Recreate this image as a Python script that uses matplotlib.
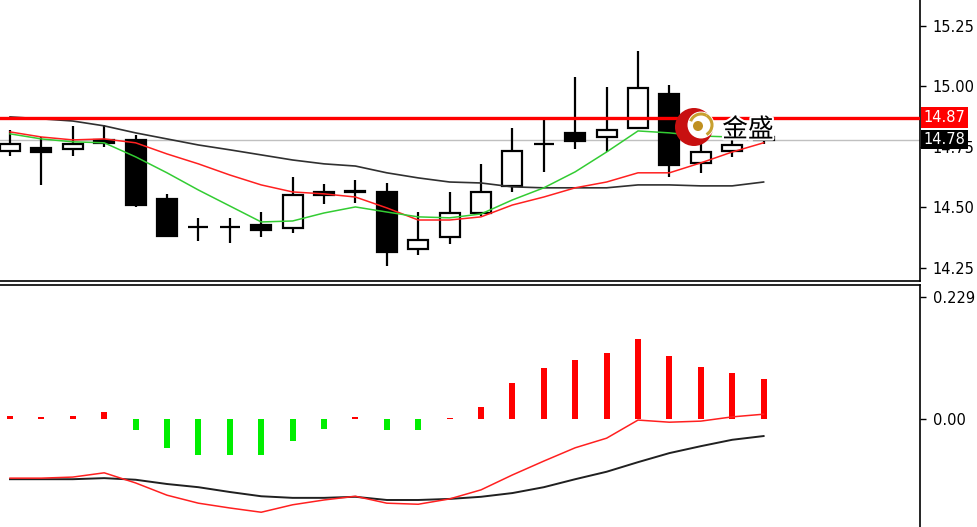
import matplotlib
matplotlib.use("Agg")
import matplotlib.pyplot as plt
import matplotlib.patheffects as pe
from matplotlib.patches import Circle, Arc
import numpy as np

# ---------------- data ----------------
opens  = [14.733, 14.746, 14.742, 14.779, 14.779, 14.535, 14.421, 14.421, 14.428, 14.415,
          14.564, 14.566, 14.564, 14.329, 14.378, 14.477, 14.589, 14.764, 14.808, 14.791,
          14.829, 14.969, 14.684, 14.733, 14.790]
highs  = [14.820, 14.791, 14.837, 14.841, 14.800, 14.556, 14.457, 14.457, 14.481, 14.626,
          14.597, 14.614, 14.601, 14.481, 14.564, 14.680, 14.829, 14.862, 15.039, 14.998,
          15.147, 15.006, 14.767, 14.779, 14.800]
lows   = [14.713, 14.593, 14.713, 14.750, 14.502, 14.378, 14.362, 14.353, 14.378, 14.395,
          14.514, 14.519, 14.258, 14.304, 14.349, 14.465, 14.564, 14.647, 14.742, 14.729,
          14.824, 14.626, 14.643, 14.709, 14.760]
closes = [14.762, 14.729, 14.762, 14.767, 14.510, 14.382, 14.419, 14.419, 14.407, 14.552,
          14.552, 14.562, 14.316, 14.366, 14.477, 14.564, 14.733, 14.760, 14.775, 14.820,
          14.994, 14.676, 14.729, 14.758, 14.780]

ma_fast = [14.804, 14.783, 14.771, 14.767, 14.709, 14.643, 14.572, 14.506, 14.440, 14.444,
           14.477, 14.502, 14.481, 14.461, 14.457, 14.473, 14.531, 14.581, 14.647, 14.729,
           14.816, 14.808, 14.795, 14.791, 14.787]
ma_mid  = [14.812, 14.791, 14.779, 14.783, 14.767, 14.721, 14.680, 14.634, 14.593, 14.564,
           14.556, 14.543, 14.498, 14.448, 14.448, 14.461, 14.510, 14.543, 14.581, 14.605,
           14.643, 14.643, 14.684, 14.729, 14.767]
ma_slow = [14.874, 14.866, 14.857, 14.837, 14.808, 14.783, 14.758, 14.738, 14.717, 14.696,
           14.680, 14.671, 14.643, 14.622, 14.605, 14.601, 14.585, 14.581, 14.581, 14.581,
           14.593, 14.593, 14.589, 14.589, 14.605]

macd_hist = [0.006, 0.003, 0.006, 0.013, -0.021, -0.054, -0.068, -0.068, -0.068, -0.041,
             -0.018, 0.003, -0.021, -0.021, 0.002, 0.023, 0.067, 0.095, 0.111, 0.124,
             0.151, 0.118, 0.097, 0.087, 0.076]
macd_red = [-0.111, -0.111, -0.109, -0.101, -0.120, -0.143, -0.158, -0.167, -0.175, -0.161,
            -0.152, -0.145, -0.158, -0.160, -0.150, -0.133, -0.105, -0.079, -0.054, -0.036,
            -0.002, -0.006, -0.004, 0.004, 0.009]
macd_black = [-0.113, -0.113, -0.113, -0.111, -0.114, -0.122, -0.128, -0.137, -0.145, -0.148,
              -0.148, -0.146, -0.152, -0.152, -0.150, -0.146, -0.139, -0.128, -0.113, -0.099,
              -0.081, -0.064, -0.051, -0.039, -0.032]

price_ticks = [14.25, 14.50, 14.75, 15.00, 15.25]
price_tick_labels = ["14.25", "14.50", "14.75", "15.00", "15.25"]
macd_ticks = [0.0, 0.229]
macd_tick_labels = ["0.00", "0.229"]
resistance_level = 14.87
resistance_label = "14.87"
bid_level = 14.78
bid_label = "14.78"
logo_text = "金盛"

# ---------------- figure ----------------
W, H = 977, 527
fig = plt.figure(figsize=(W / 100, H / 100), dpi=100)
fig.patch.set_facecolor("white")

axr = 920 / W
ax = fig.add_axes([0, (H - 281) / H, axr, 281 / H])
ax2 = fig.add_axes([0, 0, axr, (H - 285) / H])

x = np.arange(len(opens))
xlim = (-10 / 31.4, 910 / 31.4)

# candles
o = np.array(opens); c = np.array(closes)
bull = c >= o
ax.vlines(x, lows, highs, color="black", lw=1.6, zorder=2)
bottoms = np.minimum(o, c)
heights = np.abs(c - o)
ax.bar(x, heights, bottom=bottoms, width=0.64,
       color=["white" if b else "black" for b in bull],
       edgecolor="black", linewidth=1.6, zorder=3)

# horizontal lines
ax.axhline(bid_level, color="#c0c0c0", lw=1.0, zorder=1)
ax.axhline(resistance_level, color="#ff0000", lw=2.4, zorder=5)

# moving averages
ax.plot(x, ma_slow, color="#303030", lw=1.2, zorder=4)
ax.plot(x, ma_mid, color="#ff2020", lw=1.1, zorder=4)
ax.plot(x, ma_fast, color="#33cc33", lw=1.1, zorder=4)

ax.set_xlim(*xlim)
ax.set_ylim(14.196, 15.357)
ax.set_xticks([])
ax.yaxis.tick_right()
ax.set_yticks(price_ticks)
ax.set_yticklabels(price_tick_labels)
ax.tick_params(axis="y", direction="out", length=4, width=1, pad=5,
               labelsize=10.5, colors="black")
for s in ["left", "top"]:
    ax.spines[s].set_visible(False)
ax.spines["right"].set_linewidth(1.2)
ax.spines["bottom"].set_linewidth(1.2)

# price labels on axis
ax.text(1.004, resistance_level, resistance_label, transform=ax.get_yaxis_transform(),
        va="center", ha="left", fontsize=10.5, color="white", clip_on=False, zorder=10,
        bbox=dict(boxstyle="square,pad=0.2", fc="#ff0000", ec="none"))
ax.text(1.004, bid_level, bid_label, transform=ax.get_yaxis_transform(),
        va="center", ha="left", fontsize=10.5, color="white", clip_on=False, zorder=10,
        bbox=dict(boxstyle="square,pad=0.15", fc="black", ec="none"))

# MACD panel
hist = np.array(macd_hist)
ax2.bar(x, hist, width=0.19, color=np.where(hist >= 0, "#ff0000", "#00ee00"), zorder=2)
ax2.plot(x, macd_black, color="#202020", lw=1.4, zorder=3)
ax2.plot(x, macd_red, color="#ff2020", lw=1.1, zorder=3)
ax2.set_xlim(*xlim)
ax2.set_ylim(-0.2027, 0.2515)
ax2.set_xticks([])
ax2.yaxis.tick_right()
ax2.set_yticks(macd_ticks)
ax2.set_yticklabels(macd_tick_labels)
ax2.tick_params(axis="y", direction="out", length=4, width=1, pad=5,
                labelsize=10.5, colors="black")
for s in ["left", "bottom"]:
    ax2.spines[s].set_visible(False)
ax2.spines["right"].set_linewidth(1.2)
ax2.spines["top"].set_linewidth(1.2)

# logo overlay (pixel coordinates)
axl = fig.add_axes([0, 0, 1, 1], zorder=20)
axl.set_xlim(0, W)
axl.set_ylim(H, 0)
axl.axis("off")
axl.patch.set_alpha(0)
axl.add_patch(Circle((694, 127), 19, fc="#c81010", ec="none"))
axl.add_patch(Circle((701, 125), 13.5, fc="white", ec="none"))
axl.add_patch(Arc((701, 125), 22, 22, theta1=-60, theta2=60, color="#c8a030", lw=2.2))
axl.add_patch(Arc((701, 125), 22, 22, theta1=200, theta2=300, color="#c8a030", lw=2.2))
axl.add_patch(Circle((698, 126), 5, fc="#c09020", ec="none"))
axl.text(748, 130, logo_text, ha="center", va="center", fontsize=18.5, color="black",
         family=["Noto Sans CJK SC", "DejaVu Sans"], fontweight="medium",
         path_effects=[pe.withStroke(linewidth=3, foreground="white")])

fig.savefig("out.png", dpi=100)
